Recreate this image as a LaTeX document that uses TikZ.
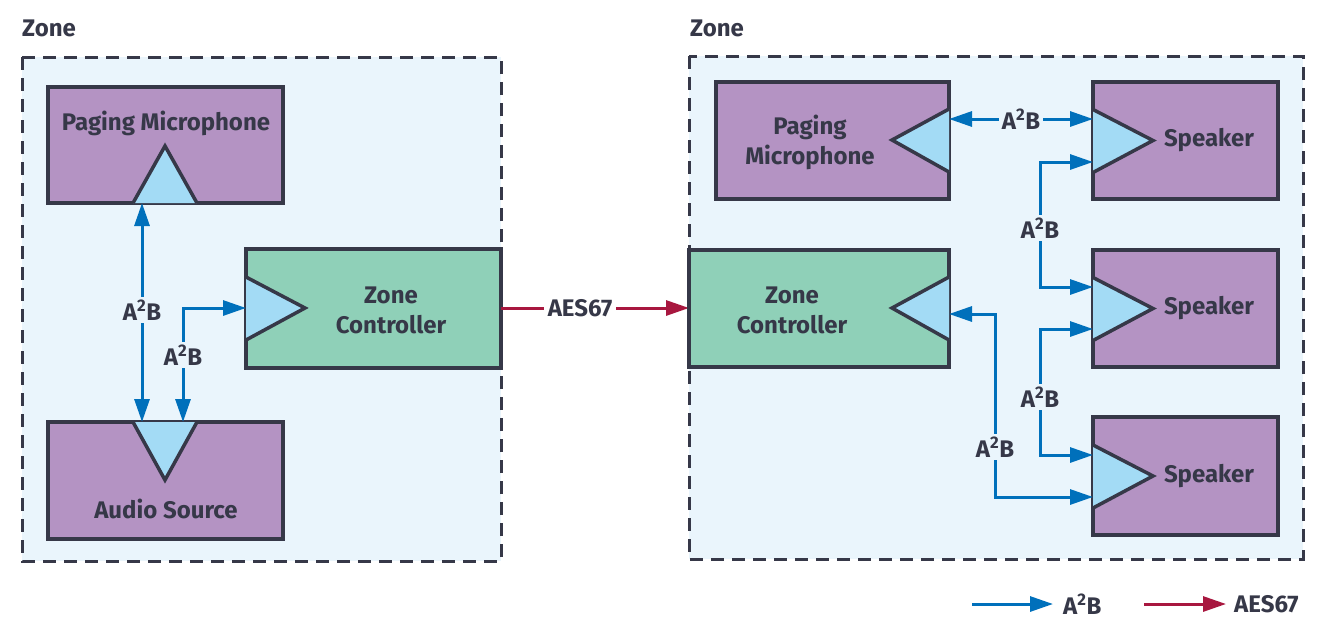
\documentclass[tikz,border=0pt]{standalone}
\usepackage{fontspec}
\setmainfont{Fira Sans}
\usetikzlibrary{arrows.meta}
\definecolor{zonebg}{HTML}{EAF5FC}
\definecolor{purplebox}{HTML}{B493C3}
\definecolor{greenbox}{HTML}{8FD0B8}
\definecolor{tribl}{HTML}{A3DBF5}
\definecolor{inkc}{HTML}{363848}
\definecolor{abblue}{HTML}{0070BB}
\definecolor{aesred}{HTML}{A8173F}
\tikzset{
  zonebox/.style={draw=inkc, fill=zonebg, line width=3pt, dash pattern=on 13pt off 8pt},
  devbox/.style={draw=inkc, line width=3.5pt, fill=purplebox},
  ctrlbox/.style={draw=inkc, line width=3.5pt, fill=greenbox},
  tri/.style={draw=inkc, line width=3.5pt, fill=tribl, line join=miter},
  txt/.style={text=inkc, font=\bfseries\fontsize{24}{30}\selectfont, align=center},
  zlabel/.style={text=inkc, font=\bfseries\fontsize{24}{28}\selectfont, anchor=west, inner sep=0pt},
  abline/.style={draw=abblue, line width=3pt, {Triangle[length=23pt,width=15pt]}-{Triangle[length=23pt,width=15pt]}},
  abone/.style={draw=abblue, line width=3pt, -{Triangle[length=23pt,width=15pt]}},
  aesline/.style={draw=aesred, line width=3pt, -{Triangle[length=23pt,width=15pt]}},
  lbl/.style={text=inkc, font=\bfseries\fontsize{24}{28}\selectfont, fill=zonebg, inner sep=3pt},
  lblw/.style={text=inkc, font=\bfseries\fontsize{24}{28}\selectfont, fill=white, inner sep=4pt},
}
\newcommand{\atb}{A\textsuperscript{2}B}
\begin{document}
\begin{tikzpicture}[x=1pt,y=-1pt]
\useasboundingbox[fill=white] (0,0) rectangle (1325,633);

% ---------- left zone ----------
\node[zlabel] (lzlab) at (22,28) {Zone};
\draw[zonebox] (22,57) rectangle (501,561);

\draw[devbox] (48,87) rectangle (283,203);
\node[txt] (lpmt) at (166,123) {Paging Microphone};
\draw[tri] (133,203) -- (165,146) -- (197,203);

\draw[devbox] (48,422) rectangle (283,539);
\node[txt] (last) at (166,509) {Audio Source};
\draw[tri] (133,422) -- (165,480) -- (197,422);

\draw[ctrlbox] (246,249) rectangle (501,368);
\node[txt] (lzct) at (391,310) {Zone\\Controller};
\draw[tri] (246,277) -- (305,308) -- (246,340);

\coordinate (lpmIn) at (142,203);
\coordinate (lasIn1) at (142,422);
\coordinate (lasIn2) at (183,422);
\coordinate (lzcIn) at (246,308);
\coordinate (lzcOut) at (501,308);

\draw[abline] (lpmIn) -- (lasIn1);
\node[lbl] (l1) at (142,310) {\atb};
\draw[abline] (lzcIn) -| (lasIn2);
\node[lbl] (l2) at (183,355) {\atb};

% ---------- AES67 ----------
\coordinate (rzcIn) at (689,308);
\draw[aesline] (lzcOut) -- (rzcIn);
\node[lblw] (aes) at (580,308) {AES67};

% ---------- right zone ----------
\node[zlabel] (rzlab) at (690,28) {Zone};
\draw[zonebox] (689,56) rectangle (1303,559);

\draw[devbox] (716,82) rectangle (949,199);
\node[txt] (rpmt) at (810,142) {Paging\\Microphone};
\draw[tri] (949,109) -- (892,140) -- (949,172);

\draw[ctrlbox] (689,250) rectangle (949,367);
\node[txt] (rzct) at (792,310) {Zone\\Controller};
\draw[tri] (949,277) -- (892,308) -- (949,340);

\foreach \n/\t/\b in {1/82/199, 2/250/367, 3/417/535}{
  \draw[devbox] (1093,\t) rectangle (1278,\b);
  \pgfmathsetmacro{\c}{(\t+\b)/2}
  \node[txt] (sp\n t) at (1209,\c) {Speaker};
  \draw[tri] (1093,\c-31) -- (1153,\c) -- (1093,\c+32);
}

\coordinate (rpmOut) at (949,119);
\coordinate (s1a) at (1093,119);
\coordinate (s1b) at (1093,162);
\coordinate (s2a) at (1093,287);
\coordinate (s2b) at (1093,329);
\coordinate (s3a) at (1093,455);
\coordinate (s3b) at (1093,497);
\coordinate (rzcOut) at (949,314);
\coordinate (j1a) at (1040,162);
\coordinate (j1b) at (1040,287);
\coordinate (j2a) at (1040,329);
\coordinate (j2b) at (1040,455);
\coordinate (j3a) at (995,314);
\coordinate (j3b) at (995,497);

\draw[abline] (rpmOut) -- (s1a);
\node[lbl] (r1) at (1021,119) {\atb};
\draw[abline] (s1b) -- (j1a) -- (j1b) -- (s2a);
\node[lbl] (r2) at (1040,228) {\atb};
\draw[abline] (s2b) -- (j2a) -- (j2b) -- (s3a);
\node[lbl] (r3) at (1040,397) {\atb};
\draw[abline] (rzcOut) -- (j3a) -- (j3b) -- (s3b);
\node[lbl] (r4) at (995,447) {\atb};

% ---------- legend ----------
\coordinate (lg1a) at (972,604);
\coordinate (lg1b) at (1053,604);
\coordinate (lg2a) at (1144,604);
\coordinate (lg2b) at (1226,604);
\draw[abone] (lg1a) -- (lg1b);
\node[txt, anchor=west, inner sep=0pt] (lgt1) at (1063,604) {\atb};
\draw[aesline] (lg2a) -- (lg2b);
\node[txt, anchor=west, inner sep=0pt] (lgt2) at (1234,604) {AES67};
\end{tikzpicture}
\end{document}
